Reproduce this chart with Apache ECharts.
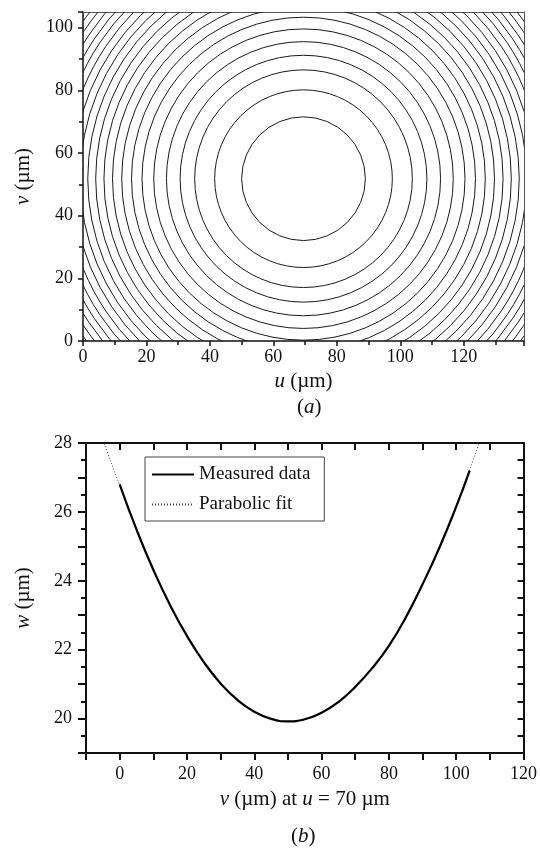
<!DOCTYPE html>
<html>
<head>
<meta charset="utf-8">
<script src="https://cdn.jsdelivr.net/npm/echarts@6/dist/echarts.min.js"></script>
<style>
  html, body { margin: 0; padding: 0; background: #fff; }
  #chart { width: 540px; height: 852px; }
</style>
</head>
<body>
<div id="chart"></div>
<script>
// (a) fringe rings, centre and radii (um)
var ringCenterU = 69.5;
var ringCenterV = 51.8;
var ringRadii = [19.5, 28, 34.3, 38.9, 43.2, 47.2, 50.9, 54.2, 57.3, 60.2, 62.9,
  65.5, 68, 70.4, 72.7, 75, 77.2, 79.3, 81.4, 83.4, 85.4, 87.3];

// (b) profile along u = 70 um
var measuredV = [0, 5, 10, 15, 20, 25, 30, 35, 40, 45, 50, 55, 60, 65, 70, 75, 80, 85, 90, 95, 100, 104];
var measuredW = [26.8, 25.49, 24.32, 23.29, 22.4, 21.64, 21.02, 20.54, 20.2, 19.99, 19.92, 19.98,
  20.17, 20.48, 20.92, 21.46, 22.11, 22.93, 23.9, 24.96, 26.15, 27.2];
var fitV = [-6, -5, 0, 5, 10, 15, 20, 25, 30, 35, 40, 45, 50, 55, 60, 65, 70, 75, 80, 85, 90, 95, 100, 105, 108];
var fitW = [28.4, 28.1, 26.78, 25.48, 24.33, 23.3, 22.41, 21.65, 21.02, 20.55, 20.2, 19.99, 19.92,
  19.97, 20.16, 20.47, 20.91, 21.46, 22.1, 22.92, 23.9, 24.97, 26.16, 27.5, 28.3];

var serif = 'Liberation Serif';
var ink = '#111';

var rings = ringRadii.map(function (r) { return [ringCenterU, ringCenterV, r]; });
var measured = measuredV.map(function (v, i) { return [v, measuredW[i]]; });
var fit = fitV.map(function (v, i) { return [v, fitW[i]]; });

var italic = { i: { fontStyle: 'italic', fontFamily: serif, fontSize: 21, color: ink } };
var label = { fontFamily: serif, fontSize: 18, color: ink };
var nameStyle = { fontFamily: serif, fontSize: 21, color: ink, rich: italic };

var chart = echarts.init(document.getElementById('chart'));

var option = {
  backgroundColor: '#fff',
  animation: false,
  grid: [
    { left: 83, top: 12, width: 441, height: 329 },
    { left: 86, top: 443, width: 438, height: 310 }
  ],
  legend: {
    data: ['Measured data', 'Parabolic fit'],
    orient: 'vertical',
    left: 145,
    top: 457,
    padding: [8, 14, 7, 6],
    itemWidth: 42,
    itemHeight: 14,
    itemGap: 11,
    borderColor: '#444',
    borderWidth: 1,
    itemStyle: { opacity: 0 },
    textStyle: { fontFamily: serif, fontSize: 19, color: ink }
  },
  xAxis: [
    {
      gridIndex: 0, type: 'value', min: 0, max: 139, interval: 20,
      axisLine: { lineStyle: { color: ink, width: 1.5 } },
      axisTick: { length: 5, lineStyle: { color: ink, width: 1.5 } },
      minorTick: { show: true, splitNumber: 2, length: 4, lineStyle: { color: ink, width: 1.5 } },
      splitLine: { show: false },
      axisLabel: Object.assign({ margin: 7, showMaxLabel: false }, label),
      name: '{i|u} (µm)', nameLocation: 'middle', nameGap: 30,
      nameTextStyle: nameStyle
    },
    {
      gridIndex: 0, type: 'value', position: 'top', min: 0, max: 139,
      axisLine: { onZero: false, lineStyle: { color: '#555', width: 1 } },
      axisTick: { show: false }, axisLabel: { show: false }, splitLine: { show: false }
    },
    {
      gridIndex: 1, type: 'value', min: -10, max: 120, interval: 10,
      axisLine: { onZero: false, lineStyle: { color: ink, width: 2 } },
      axisTick: { length: 7, lineStyle: { color: ink, width: 2 } },
      splitLine: { show: false },
      axisLabel: Object.assign({
        margin: 12,
        formatter: function (v) { return v % 20 === 0 ? String(v) : ''; }
      }, label),
      name: '{i|v} (µm) at {i|u} = 70 µm', nameLocation: 'middle', nameGap: 36,
      nameTextStyle: nameStyle
    },
    {
      gridIndex: 1, type: 'value', position: 'top', min: -10, max: 120, interval: 10,
      axisLine: { onZero: false, lineStyle: { color: ink, width: 2 } },
      axisTick: { inside: true, length: 7, lineStyle: { color: ink, width: 2 } },
      axisLabel: { show: false }, splitLine: { show: false }
    }
  ],
  yAxis: [
    {
      gridIndex: 0, type: 'value', min: 0, max: 105, interval: 20,
      axisLine: { show: true, lineStyle: { color: ink, width: 1.5 } },
      axisTick: { show: true, length: 5, lineStyle: { color: ink, width: 1.5 } },
      minorTick: { show: true, splitNumber: 2, length: 4, lineStyle: { color: ink, width: 1.5 } },
      splitLine: { show: false },
      axisLabel: Object.assign({ margin: 10 }, label),
      name: '{i|v} (µm)', nameLocation: 'middle', nameGap: 49,
      nameTextStyle: nameStyle
    },
    {
      gridIndex: 0, type: 'value', position: 'right', min: 0, max: 105,
      axisLine: { show: true, onZero: false, lineStyle: { color: '#555', width: 1 } },
      axisTick: { show: false }, axisLabel: { show: false }, splitLine: { show: false }
    },
    {
      gridIndex: 1, type: 'value', min: 19, max: 28, interval: 1,
      axisLine: { show: true, onZero: false, lineStyle: { color: ink, width: 2 } },
      axisTick: { show: true, length: 8, lineStyle: { color: ink, width: 2 } },
      minorTick: { show: true, splitNumber: 2, length: 5, lineStyle: { color: ink, width: 2 } },
      splitLine: { show: false },
      axisLabel: Object.assign({
        margin: 14,
        formatter: function (v) { return v % 2 === 0 ? String(v) : ''; }
      }, label),
      name: '{i|w} (µm)', nameLocation: 'middle', nameGap: 52,
      nameTextStyle: nameStyle
    },
    {
      gridIndex: 1, type: 'value', position: 'right', min: 19, max: 28, interval: 0.5,
      axisLine: { show: true, onZero: false, lineStyle: { color: ink, width: 2 } },
      axisTick: { show: true, inside: true, length: 6, lineStyle: { color: ink, width: 2 } },
      axisLabel: { show: false }, splitLine: { show: false }
    }
  ],
  graphic: [
    {
      type: 'text', left: 297, top: 397,
      style: { text: '({i|a})', font: '21px "Liberation Serif"', fill: ink, rich: italic }
    },
    {
      type: 'text', left: 291, top: 826,
      style: { text: '({i|b})', font: '21px "Liberation Serif"', fill: ink, rich: italic }
    }
  ],
  series: [
    {
      type: 'custom',
      name: 'rings',
      xAxisIndex: 0,
      yAxisIndex: 0,
      clip: true,
      encode: { x: 0, y: 1 },
      data: rings,
      renderItem: function (params, api) {
        var c = api.coord([api.value(0), api.value(1)]);
        var r = api.size([api.value(2), 0])[0];
        return {
          type: 'circle',
          shape: { cx: c[0], cy: c[1], r: r },
          style: { fill: 'none', stroke: '#1a1a1a', lineWidth: 1 }
        };
      }
    },
    {
      type: 'line',
      name: 'Parabolic fit',
      xAxisIndex: 2,
      yAxisIndex: 2,
      data: fit,
      smooth: true,
      symbol: 'none',
      itemStyle: { color: '#333' },
      lineStyle: { color: '#333', width: 1, type: [1, 2] }
    },
    {
      type: 'line',
      name: 'Measured data',
      xAxisIndex: 2,
      yAxisIndex: 2,
      data: measured,
      smooth: true,
      symbol: 'none',
      z: 3,
      itemStyle: { color: '#000' },
      lineStyle: { color: '#000', width: 2.2 }
    }
  ]
};

chart.setOption(option);
</script>
</body>
</html>
